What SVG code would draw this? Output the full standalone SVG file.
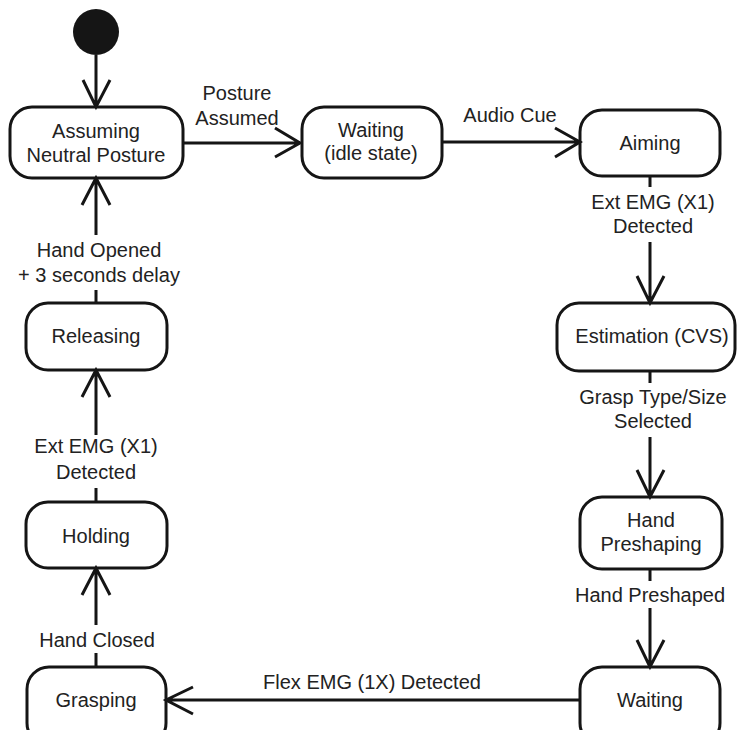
<svg xmlns="http://www.w3.org/2000/svg" width="737" height="730" viewBox="0 0 737 730">
  <style>
    .state { fill: #ffffff; stroke: #151515; stroke-width: 3; }
    .txt { font-family: "Liberation Sans", Arial, sans-serif; font-size: 20px; fill: #222222; text-anchor: middle; }
    .edge { fill: none; stroke: #151515; stroke-width: 3; stroke-linecap: butt; stroke-linejoin: miter; }
  </style>
  <rect width="737" height="730" fill="#ffffff"/>

  <!-- initial pseudo-state -->
  <g id="start">
    <circle cx="96" cy="32" r="23" fill="#151515"/>
  </g>

  <!-- states -->
  <g id="assuming">
    <rect class="state" x="10" y="107" width="173" height="71" rx="22"/>
    <text class="txt" x="96" y="138">Assuming</text>
    <text class="txt" x="96" y="162">Neutral Posture</text>
  </g>
  <g id="waiting-idle">
    <rect class="state" x="302" y="107" width="140" height="71" rx="22"/>
    <text class="txt" x="371" y="137">Waiting</text>
    <text class="txt" x="371" y="160">(idle state)</text>
  </g>
  <g id="aiming">
    <rect class="state" x="580" y="110" width="140" height="66" rx="22"/>
    <text class="txt" x="650" y="150">Aiming</text>
  </g>
  <g id="estimation">
    <rect class="state" x="557" y="303" width="178" height="68" rx="22"/>
    <text class="txt" x="652" y="343">Estimation (CVS)</text>
  </g>
  <g id="preshaping">
    <rect class="state" x="580" y="497" width="142" height="72" rx="22"/>
    <text class="txt" x="651" y="527">Hand</text>
    <text class="txt" x="651" y="551">Preshaping</text>
  </g>
  <g id="waiting">
    <rect class="state" x="580" y="667" width="140" height="78" rx="22"/>
    <text class="txt" x="650" y="707">Waiting</text>
  </g>
  <g id="grasping">
    <rect class="state" x="27" y="667" width="139" height="78" rx="22"/>
    <text class="txt" x="96" y="707">Grasping</text>
  </g>
  <g id="holding">
    <rect class="state" x="26" y="502" width="141" height="66" rx="22"/>
    <text class="txt" x="96" y="543">Holding</text>
  </g>
  <g id="releasing">
    <rect class="state" x="26" y="303" width="141" height="67" rx="22"/>
    <text class="txt" x="96" y="343">Releasing</text>
  </g>

  <!-- transitions -->
  <g id="connectors">
    <path class="edge" d="M96,55 V107 M83,80 L96,107 L110,80"/>
    <path class="edge" d="M183,143 H300 M275,128 L300,143 L275,157"/>
    <path class="edge" d="M442,142 H580 M555,128 L580,142 L555,157"/>
    <path class="edge" d="M650,176 V187 M650,242 V303 M637,276 L650,303 L664,276"/>
    <path class="edge" d="M650,371 V383 M650,437 V497 M637,470 L650,497 L664,470"/>
    <path class="edge" d="M650,569 V581 M650,608 V667 M637,640 L650,667 L664,640"/>
    <path class="edge" d="M580,700 H166 M193,687 L166,700 L193,714"/>
    <path class="edge" d="M96,667 V653 M96,625 V568 M82,595 L96,568 L110,595"/>
    <path class="edge" d="M96,502 V488 M96,435 V370 M82,397 L96,370 L110,397"/>
    <path class="edge" d="M96,303 V290 M96,235 V178 M82,205 L96,178 L110,205"/>
  </g>

  <!-- transition labels -->
  <g id="labels">
    <text class="txt" x="237" y="100">Posture</text>
    <text class="txt" x="237" y="125">Assumed</text>
    <text class="txt" x="510" y="122">Audio Cue</text>
    <text class="txt" x="653" y="209">Ext EMG (X1)</text>
    <text class="txt" x="653" y="233">Detected</text>
    <text class="txt" x="653" y="404">Grasp Type/Size</text>
    <text class="txt" x="653" y="428">Selected</text>
    <text class="txt" x="650" y="602">Hand Preshaped</text>
    <text class="txt" x="372" y="689">Flex EMG (1X) Detected</text>
    <text class="txt" x="97" y="647">Hand Closed</text>
    <text class="txt" x="96" y="453">Ext EMG (X1)</text>
    <text class="txt" x="96" y="479">Detected</text>
    <text class="txt" x="99" y="257">Hand Opened</text>
    <text class="txt" x="99" y="282">+ 3 seconds delay</text>
  </g>
</svg>
